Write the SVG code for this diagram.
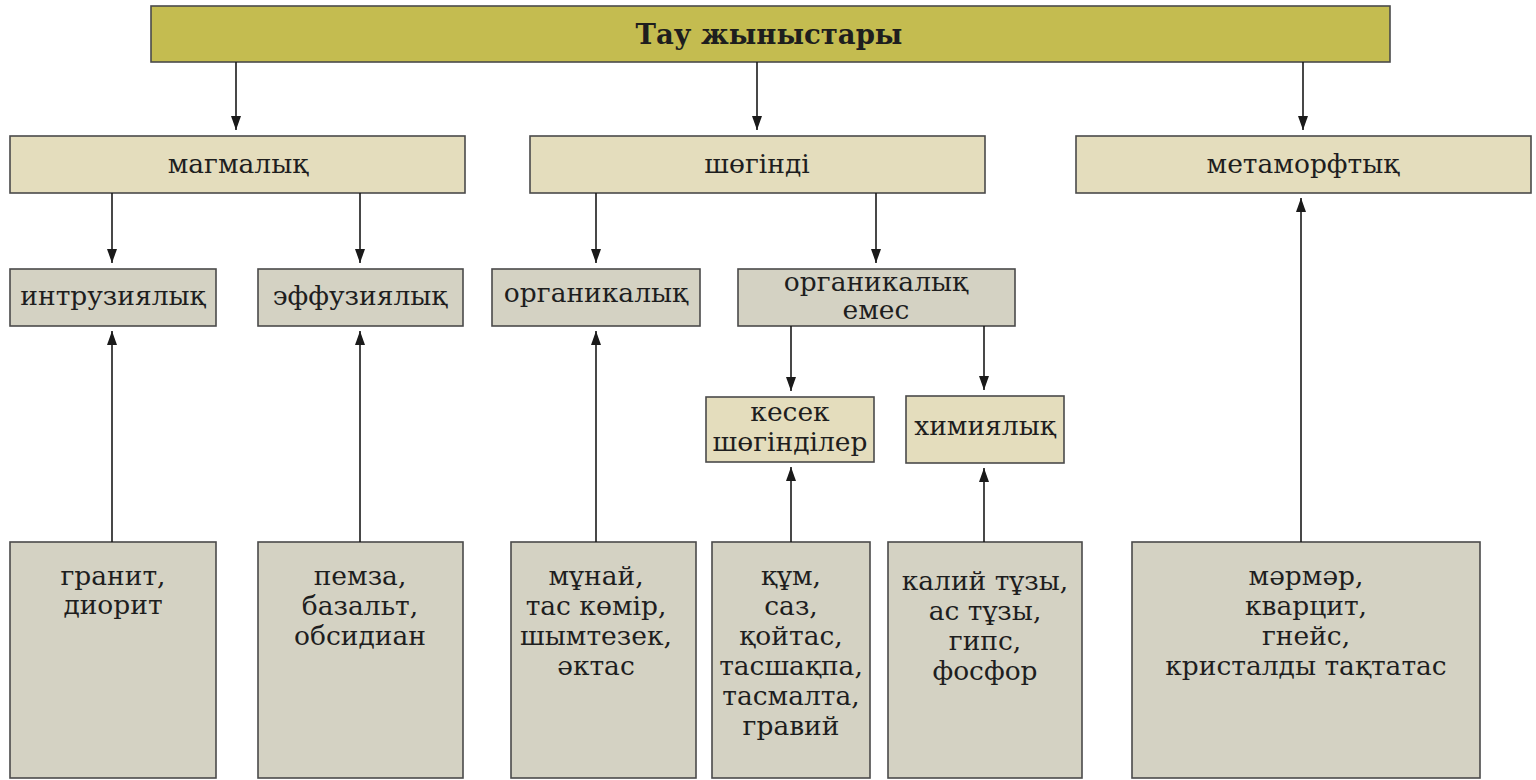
<svg xmlns="http://www.w3.org/2000/svg" width="1536" height="780" viewBox="0 0 1536 780">
<defs>
<marker id="ah" markerWidth="14" markerHeight="10" refX="14" refY="5" orient="auto" markerUnits="userSpaceOnUse" viewBox="0 0 14 10">
<path d="M0,0 L14,5 L0,10 Z" fill="#1a1a1a"/>
</marker>
</defs>
<style>
.box{stroke:#4a4a4a;stroke-width:1.6}
.top{fill:#c4bc50}
.lt{fill:#e4ddbd}
.gr{fill:#d4d2c3}
text{font-family:"DejaVu Serif","Liberation Serif",serif;font-size:26.5px;fill:#1e1e1e;text-anchor:middle}
.title{font-size:27.5px;font-weight:bold}
.conn line{stroke:#1a1a1a;stroke-width:1.6;fill:none}
.dn{marker-end:url(#ah)}
</style>
<rect width="1536" height="780" fill="#ffffff"/>
<g id="n-root"><rect class="box top" x="151" y="6" width="1239" height="56"/><text class="title" x="769" y="44">Тау жыныстары</text></g>
<g id="n-magmalyk"><rect class="box lt" x="10" y="136" width="455" height="57"/><text x="238" y="173">магмалық</text></g>
<g id="n-shogindi"><rect class="box lt" x="530" y="136" width="455" height="57"/><text x="757" y="173">шөгінді</text></g>
<g id="n-metamorf"><rect class="box lt" x="1076" y="136" width="455" height="57"/><text x="1303" y="173">метаморфтық</text></g>
<g id="n-intruz"><rect class="box gr" x="10" y="269" width="206" height="57"/><text x="113" y="305">интрузиялық</text></g>
<g id="n-effuz"><rect class="box gr" x="258" y="269" width="205" height="57"/><text x="360" y="305">эффузиялық</text></g>
<g id="n-organ"><rect class="box gr" x="492" y="269" width="208" height="57"/><text x="596" y="302">органикалық</text></g>
<g id="n-organemes"><rect class="box gr" x="738" y="269" width="277" height="57"/><text x="876" y="291">органикалық</text><text x="876" y="319">емес</text></g>
<g id="n-kesek"><rect class="box lt" x="706" y="397" width="168" height="65"/><text x="790" y="421">кесек</text><text x="790" y="451">шөгінділер</text></g>
<g id="n-himiya"><rect class="box lt" x="906" y="396" width="158" height="67"/><text x="985" y="435">химиялық</text></g>
<g id="n-granit"><rect class="box gr" x="10" y="542" width="206" height="236"/><text x="113" y="585">гранит,</text><text x="113" y="614">диорит</text></g>
<g id="n-pemza"><rect class="box gr" x="258" y="542" width="205" height="236"/><text x="360" y="585">пемза,</text><text x="360" y="615">базальт,</text><text x="360" y="645">обсидиан</text></g>
<g id="n-munai"><rect class="box gr" x="511" y="542" width="185" height="236"/><text x="596" y="585">мұнай,</text><text x="596" y="615">тас көмір,</text><text x="596" y="645">шымтезек,</text><text x="596" y="675">әктас</text></g>
<g id="n-kum"><rect class="box gr" x="712" y="542" width="158" height="236"/><text x="791" y="585">құм,</text><text x="791" y="615">саз,</text><text x="791" y="645">қойтас,</text><text x="791" y="675">тасшақпа,</text><text x="791" y="705">тасмалта,</text><text x="791" y="735">гравий</text></g>
<g id="n-kalii"><rect class="box gr" x="888" y="542" width="194" height="236"/><text x="985" y="590">калий тұзы,</text><text x="985" y="620">ас тұзы,</text><text x="985" y="650">гипс,</text><text x="985" y="680">фосфор</text></g>
<g id="n-marmar"><rect class="box gr" x="1132" y="542" width="348" height="236"/><text x="1306" y="585">мәрмәр,</text><text x="1306" y="615">кварцит,</text><text x="1306" y="645">гнейс,</text><text x="1306" y="675">кристалды тақтатас</text></g>
<g id="connectors" class="conn">
<line class="dn" x1="236" y1="62" x2="236" y2="130"/>
<line class="dn" x1="757" y1="62" x2="757" y2="130"/>
<line class="dn" x1="1303" y1="62" x2="1303" y2="130"/>
<line class="dn" x1="112" y1="193" x2="112" y2="263"/>
<line class="dn" x1="360" y1="193" x2="360" y2="263"/>
<line class="dn" x1="596" y1="193" x2="596" y2="263"/>
<line class="dn" x1="876" y1="193" x2="876" y2="263"/>
<line class="dn" x1="791" y1="326" x2="791" y2="391"/>
<line class="dn" x1="984" y1="326" x2="984" y2="390"/>
<line class="dn" x1="112" y1="542" x2="112" y2="331"/>
<line class="dn" x1="360" y1="542" x2="360" y2="331"/>
<line class="dn" x1="596" y1="542" x2="596" y2="331"/>
<line class="dn" x1="791" y1="542" x2="791" y2="467"/>
<line class="dn" x1="984" y1="542" x2="984" y2="468"/>
<line class="dn" x1="1301" y1="542" x2="1301" y2="198"/>
</g>
</svg>
